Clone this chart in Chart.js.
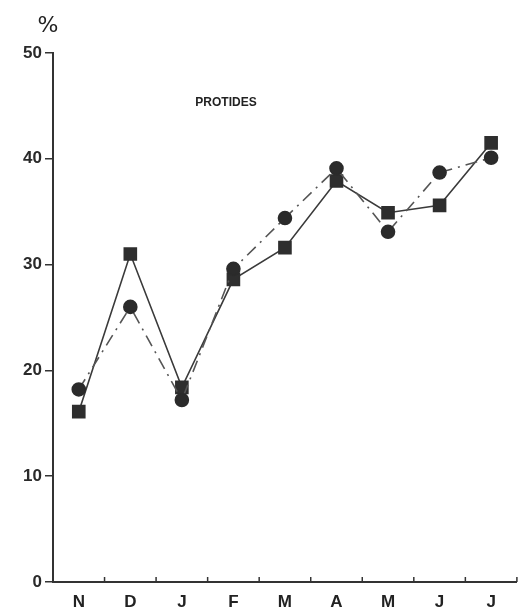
<!DOCTYPE html>
<html>
<head>
<meta charset="utf-8">
<script src="https://cdn.jsdelivr.net/npm/chart.js@4.4.1/dist/chart.umd.min.js"></script>
<style>
  html, body { margin: 0; padding: 0; background: #fff; }
  #wrap { width: 527px; height: 610px; }
</style>
</head>
<body>
<div id="wrap"><canvas id="protides"></canvas></div>
<script>
const months = ['N', 'D', 'J', 'F', 'M', 'A', 'M', 'J', 'J'];
const yTicks = [0, 10, 20, 30, 40, 50];
// circles, dash-dot line
const seriesCircles = [18.2, 26.0, 17.2, 29.6, 34.4, 39.1, 33.1, 38.7, 40.1];
// squares, solid line
const seriesSquares = [16.1, 31.0, 18.4, 28.6, 31.6, 37.9, 34.9, 35.6, 41.5];

const ink = '#333';

// short tick marks pointing up from the x axis, between months
const innerTicks = {
    id: 'innerTicks',
    afterDraw(chart) {
        const ctx = chart.ctx;
        const x = chart.scales.x;
        const half = (x.getPixelForValue(1) - x.getPixelForValue(0)) / 2;
        ctx.save();
        ctx.strokeStyle = ink;
        ctx.lineWidth = 1.5;
        for (let i = 0; i < months.length; i++) {
            const px = x.getPixelForValue(i) + half;
            ctx.beginPath();
            ctx.moveTo(px, x.top);
            ctx.lineTo(px, x.top - 5);
            ctx.stroke();
        }
        ctx.restore();
    }
};

const labels = {
    id: 'labels',
    afterDraw(chart) {
        const ctx = chart.ctx;
        const y = chart.scales.y;
        const area = chart.chartArea;
        ctx.save();
        ctx.fillStyle = '#222';
        ctx.textAlign = 'center';
        ctx.textBaseline = 'middle';
        ctx.font = '22px "DejaVu Sans"';
        ctx.fillText('%', area.left - 5, y.getPixelForValue(50) - 27);
        ctx.font = 'bold 12px "Liberation Sans"';
        ctx.fillText('PROTIDES', 226, y.getPixelForValue(45.3));
        ctx.restore();
    }
};

new Chart(document.getElementById('protides'), {
    type: 'line',
    data: {
        labels: months,
        datasets: [{
            label: 'circles',
            data: seriesCircles,
            borderColor: '#555',
            borderWidth: 1.6,
            borderDash: [12, 6, 2, 6],
            pointStyle: 'circle',
            pointRadius: 6.5,
            pointBackgroundColor: '#2b2b2b',
            pointBorderColor: '#2b2b2b',
            tension: 0
        }, {
            label: 'squares',
            data: seriesSquares,
            borderColor: '#3a3a3a',
            borderWidth: 1.6,
            pointStyle: 'rect',
            pointRadius: 8.5,
            pointBackgroundColor: '#2e2e2e',
            pointBorderColor: '#2e2e2e',
            tension: 0
        }]
    },
    options: {
        responsive: true,
        maintainAspectRatio: false,
        animation: false,
        layout: { padding: { top: 53, right: 6, left: 0, bottom: 0 } },
        plugins: {
            legend: { display: false },
            tooltip: { enabled: false }
        },
        scales: {
            x: {
                offset: true,
                grid: { display: false },
                border: { display: true, color: ink, width: 2 },
                ticks: {
                    color: '#222',
                    font: { family: 'Liberation Sans', size: 17, weight: 'bold' },
                    padding: 2
                },
                afterFit(scale) { scale.height = 28; }
            },
            y: {
                min: 0,
                max: 50,
                afterBuildTicks(scale) { scale.ticks = yTicks.map(v => ({ value: v })); },
                grid: { drawOnChartArea: false, tickLength: 8, color: ink, lineWidth: 1.5 },
                border: { display: true, color: ink, width: 2 },
                ticks: {
                    color: '#2a2a2a',
                    font: { family: 'Liberation Sans', size: 17, weight: 'bold' },
                    padding: 3
                },
                afterFit(scale) { scale.width = 53; }
            }
        }
    },
    plugins: [innerTicks, labels]
});
</script>
</body>
</html>
